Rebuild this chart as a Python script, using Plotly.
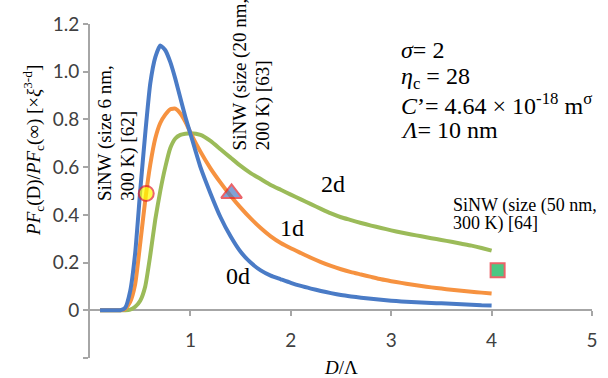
import plotly.graph_objects as go

# D/Lambda grid
d_ratio = [0.10, 0.15, 0.20, 0.25, 0.30, 0.35, 0.40, 0.45, 0.50, 0.55, 0.60, 0.65, 0.70,
           0.75, 0.80, 0.85, 0.90, 0.95, 1.00, 1.1, 1.2, 1.3, 1.4, 1.5, 1.6, 1.7, 1.8,
           1.9, 2.0, 2.1, 2.2, 2.3, 2.4, 2.5, 2.6, 2.7, 2.8, 2.9, 3.0, 3.1, 3.2, 3.3, 3.4,
           3.5, 3.6, 3.7, 3.8, 3.9, 4.0]
pf_0d = [0, 0, 0, 0, 0, 0.01, 0.08, 0.24, 0.50, 0.74, 0.95, 1.06, 1.11, 1.09, 1.04, 0.97,
         0.89, 0.81, 0.74, 0.60, 0.49, 0.39, 0.31, 0.245, 0.20, 0.167, 0.145, 0.13, 0.115,
         0.102, 0.091, 0.081, 0.072, 0.064, 0.058, 0.053, 0.048, 0.044, 0.04, 0.037, 0.035,
         0.033, 0.031, 0.029, 0.027, 0.025, 0.023, 0.021, 0.02]
pf_1d = [0, 0, 0, 0, 0, 0.005, 0.035, 0.11, 0.28, 0.46, 0.61, 0.72, 0.785, 0.82, 0.843,
         0.845, 0.825, 0.79, 0.745, 0.665, 0.595, 0.535, 0.48, 0.43, 0.385, 0.345, 0.31,
         0.282, 0.26, 0.24, 0.22, 0.202, 0.186, 0.172, 0.16, 0.15, 0.14, 0.13, 0.122,
         0.115, 0.108, 0.102, 0.096, 0.091, 0.086, 0.082, 0.078, 0.074, 0.07]
pf_2d = [0, 0, 0, 0, 0, 0, 0.003, 0.015, 0.04, 0.10, 0.23, 0.38, 0.50, 0.60, 0.68, 0.72,
         0.735, 0.74, 0.742, 0.735, 0.71, 0.675, 0.64, 0.605, 0.575, 0.55, 0.525, 0.505,
         0.485, 0.465, 0.445, 0.425, 0.406, 0.39, 0.378, 0.366, 0.355, 0.345, 0.335, 0.326,
         0.318, 0.31, 0.302, 0.295, 0.287, 0.279, 0.271, 0.261, 0.25]
curve_labels = ["2d", "1d", "0d"]

# experimental points
exp_x = [0.56, 1.41, 4.06]
exp_y = [0.49, 0.49, 0.168]
exp_symbols = ["circle", "triangle-up", "square"]
exp_fill = ["#ffff00", "#4a7bc6", "#00b050"]
exp_size = [15, 18, 14]

y_tickvals = [-0.2, 0, 0.2, 0.4, 0.6, 0.8, 1.0, 1.2]
y_ticktext = ["", "0", "0.2", "0.4", "0.6", "0.8", "1.0", "1.2"]
x_tickvals = [1, 2, 3, 4, 5]

params = ["<i>σ</i>= 2", "<i>η</i><sub>c</sub> = 28",
          "<i>C</i>’= 4.64 × 10<sup>-18</sup> m<sup>σ</sup>", "<i>Λ</i>= 10 nm"]

BLUE, ORANGE, GREEN = "#4a7bc6", "#f69240", "#9bbb59"
AXIS = "#a6a6a6"
SERIF = "Liberation Serif, Times New Roman, serif"
SANS = "Lato, Carlito, Calibri, sans-serif"

fig = go.Figure()
for ys, col in [(pf_2d, GREEN), (pf_1d, ORANGE), (pf_0d, BLUE)]:
    fig.add_trace(go.Scatter(x=d_ratio, y=ys, mode="lines",
                             line=dict(color=col, width=4, shape="spline", smoothing=0.5),
                             showlegend=False, hoverinfo="skip"))

fig.add_trace(go.Scatter(x=exp_x, y=exp_y, mode="markers",
                         marker=dict(symbol=exp_symbols, color=exp_fill, size=exp_size,
                                     line=dict(color="#e3222b", width=2)),
                         showlegend=False, cliponaxis=False))

fig.update_layout(
    width=608, height=378,
    margin=dict(l=90, r=10, t=24, b=20),
    paper_bgcolor="white", plot_bgcolor="white",
    xaxis=dict(range=[0, 5], tickvals=x_tickvals, showgrid=False, zeroline=False,
               showline=True, linecolor=AXIS, linewidth=2, ticks="outside", ticklen=5,
               tickwidth=2, tickcolor=AXIS, anchor="free", position=0.2 / 1.4,
               ticklabelstandoff=8, layer="below traces",
               tickfont=dict(family=SANS, size=19, color="#404040")),
    yaxis=dict(range=[-0.2, 1.2], tickvals=y_tickvals, ticktext=y_ticktext, showgrid=False,
               zeroline=False, showline=True, linecolor=AXIS, linewidth=2, ticks="outside",
               ticklen=5, tickwidth=2, tickcolor=AXIS, layer="below traces",
               tickfont=dict(family=SANS, size=19, color="#404040")),
)

ann = []
tf = dict(family=SERIF, size=19, color="black")
# axis titles
ann.append(dict(text="<i>PF</i><sub>c</sub>(D)/<i>PF</i><sub>c</sub>(∞) [×<i>ξ</i><sup>3-d</sup>]",
                xref="paper", yref="paper", x=-0.1123, y=0.622, textangle=-90,
                xanchor="center", yanchor="middle", showarrow=False, font=tf))
ann.append(dict(text="<i>D</i>/Λ", xref="paper", yref="paper", x=0.5005, y=-0.0285,
                xanchor="center", yanchor="middle", showarrow=False, font=tf))
# curve labels
for t, xx, yy in zip(curve_labels, [2.42, 2.01, 1.47], [0.529, 0.345, 0.145]):
    ann.append(dict(text=t, x=xx, y=yy, showarrow=False,
                    font=dict(family=SERIF, size=24, color="black")))
# parameter block
for t, yy in zip(params, [1.092, 0.974, 0.865, 0.756]):
    ann.append(dict(text=t, x=3.08, y=yy, xanchor="left", yanchor="middle",
                    showarrow=False, font=dict(family=SERIF, size=24, color="black")))
# point labels (rotated)
for t, xx in [("SiNW (size 6 nm,", 0.148), ("300 K) [62]", 0.384)]:
    ann.append(dict(text=t, x=xx, y=0.449, yanchor="bottom", textangle=-90,
                    showarrow=False, font=tf))
for t, xx in [("SiNW (size (20 nm,", 1.497), ("200 K) [63]", 1.724)]:
    ann.append(dict(text=t, x=xx, y=0.663, yanchor="bottom", textangle=-90,
                    showarrow=False, font=tf))
for t, yy in [("SiNW (size (50 nm,", 0.441), ("300 K) [64]", 0.362)]:
    ann.append(dict(text=t, x=3.596, y=yy, xanchor="left", yanchor="middle",
                    showarrow=False, font=dict(family=SERIF, size=18, color="black")))

fig.update_layout(annotations=ann)
fig.write_html("out.html", config={"displayModeBar": False},
               post_script="document.body.style.margin='0';")
